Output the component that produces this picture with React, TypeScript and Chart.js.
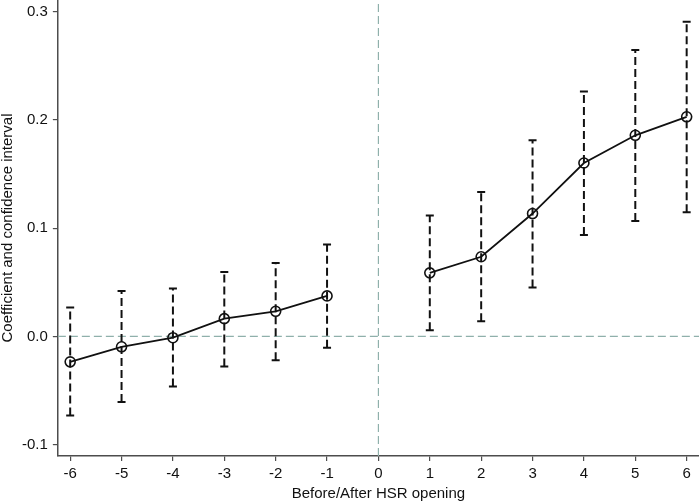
import { useEffect, useRef } from "react";
import { Chart, registerables } from "chart.js";

Chart.register(...registerables);

const periods = [-6, -5, -4, -3, -2, -1, 1, 2, 3, 4, 5, 6];
const coef = [-0.0235, -0.0096, -0.0012, 0.0164, 0.0232, 0.0374, 0.0587, 0.0736, 0.1135, 0.1602, 0.1858, 0.2029];
const ciLow = [-0.073, -0.0606, -0.0464, -0.0278, -0.022, -0.0105, 0.0056, 0.0139, 0.0452, 0.0937, 0.1067, 0.1147];
const ciHigh = [0.0266, 0.042, 0.0442, 0.0594, 0.0677, 0.085, 0.1116, 0.1333, 0.1812, 0.2263, 0.2647, 0.2906];

const xTicks = [-6, -5, -4, -3, -2, -1, 0, 1, 2, 3, 4, 5, 6];
const yTicks = [-0.1, 0, 0.1, 0.2, 0.3];
const xRange = [-6.24, 6.24];
const yRange = [-0.1105, 0.3108];
const eventTime = 0;
const nullEffect = 0;

const AXIS = "#4d4d4d";
const REF = "#8fb0ab";
const FONT = "'Liberation Sans', Arial, sans-serif";

export default function App() {
  const canvasRef = useRef<HTMLCanvasElement>(null);

  useEffect(() => {
    if (!canvasRef.current) return;

    const points = periods.map((p, i) => ({ x: p, y: coef[i] }));

    const errorBars = periods.map((p, i) => ({
      type: "line" as const,
      data: [
        { x: p, y: ciLow[i] },
        { x: p, y: ciHigh[i] },
      ],
      borderColor: "#111",
      borderWidth: 2,
      borderDash: [8, 4],
      pointStyle: "line" as const,
      pointRadius: 4,
      pointBorderWidth: 2,
      pointBorderColor: "#111",
      order: 2,
    }));

    const chart = new Chart(canvasRef.current, {
      type: "line",
      data: {
        datasets: [
          {
            data: [
              { x: xRange[0], y: nullEffect },
              { x: xRange[1], y: nullEffect },
            ],
            borderColor: REF,
            borderWidth: 1.2,
            borderDash: [8, 4],
            pointRadius: 0,
            order: 3,
          },
          {
            data: [
              { x: eventTime, y: yRange[0] },
              { x: eventTime, y: yRange[1] },
            ],
            borderColor: REF,
            borderWidth: 1.2,
            borderDash: [8, 4],
            pointRadius: 0,
            order: 3,
          },
          ...errorBars,
          {
            data: points.filter((d) => d.x < eventTime),
            borderColor: "#111",
            borderWidth: 1.8,
            pointRadius: 5,
            pointBorderWidth: 1.6,
            pointBackgroundColor: "rgba(0,0,0,0)",
            pointBorderColor: "#111",
            order: 1,
          },
          {
            data: points.filter((d) => d.x > eventTime),
            borderColor: "#111",
            borderWidth: 1.8,
            pointRadius: 5,
            pointBorderWidth: 1.6,
            pointBackgroundColor: "rgba(0,0,0,0)",
            pointBorderColor: "#111",
            order: 1,
          },
        ],
      },
      options: {
        animation: false,
        responsive: true,
        maintainAspectRatio: false,
        layout: { padding: 0, autoPadding: false },
        plugins: {
          legend: { display: false },
          tooltip: { enabled: false },
        },
        scales: {
          x: {
            type: "linear",
            min: xRange[0],
            max: xRange[1],
            afterBuildTicks: (scale) => {
              scale.ticks = xTicks.map((v) => ({ value: v }));
            },
            afterFit: (scale) => {
              scale.paddingLeft = 0;
              scale.paddingRight = 0;
            },
            border: { display: true, color: AXIS, width: 1.5 },
            grid: { drawOnChartArea: false, drawTicks: true, tickLength: 5, color: AXIS, lineWidth: 1.2 },
            ticks: {
              color: "#111",
              font: { family: FONT, size: 15, lineHeight: 1 },
              padding: 5,
              maxRotation: 0,
              callback: (v) => String(v),
            },
            title: {
              display: true,
              text: "Before/After HSR opening",
              color: "#111",
              font: { family: FONT, size: 15, lineHeight: 1 },
              padding: { top: 0, bottom: 0 },
            },
          },
          y: {
            type: "linear",
            min: yRange[0],
            max: yRange[1],
            afterBuildTicks: (scale) => {
              scale.ticks = yTicks.map((v) => ({ value: v }));
            },
            afterFit: (scale) => {
              scale.paddingTop = 0;
              scale.paddingBottom = 0;
            },
            border: { display: true, color: AXIS, width: 1.5 },
            grid: { drawOnChartArea: false, drawTicks: true, tickLength: 5, color: AXIS, lineWidth: 1.2 },
            ticks: {
              color: "#111",
              font: { family: FONT, size: 15, lineHeight: 1 },
              padding: 5,
              callback: (v) => Number(v).toFixed(1),
            },
            title: {
              display: true,
              text: "Coefficient and confidence interval",
              color: "#111",
              font: { family: FONT, size: 15, lineHeight: 1 },
              padding: { top: 0, bottom: 2 },
            },
          },
        },
      },
    });

    return () => {
      chart.destroy();
    };
  }, [canvasRef]);

  return (
    <div style={{ position: "fixed", left: 0, top: 0, width: 699, height: 501, background: "#fff" }}>
      <canvas ref={canvasRef}></canvas>
    </div>
  );
}
